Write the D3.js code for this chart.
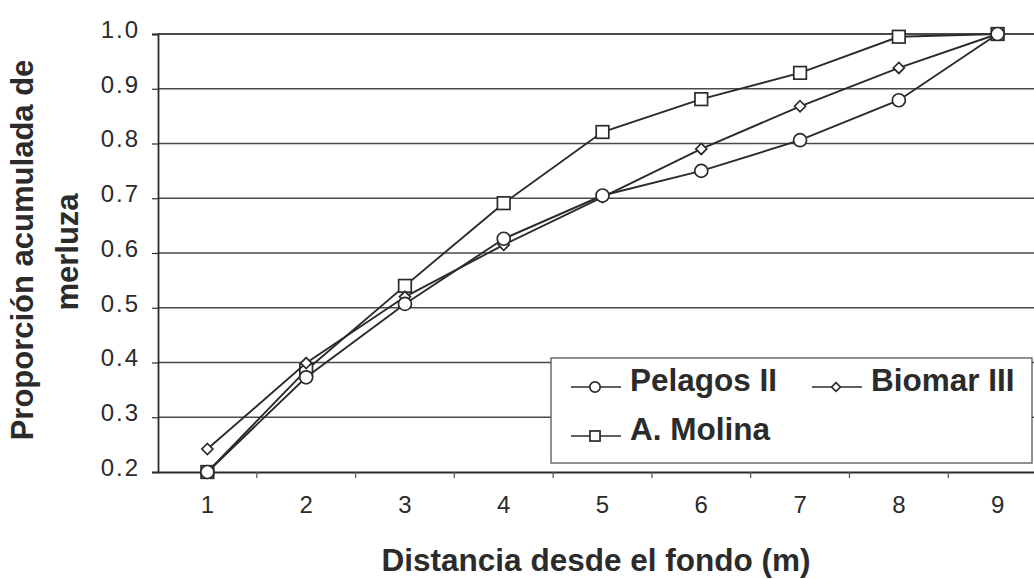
<!DOCTYPE html>
<html><head><meta charset="utf-8">
<script src="https://cdn.jsdelivr.net/npm/d3@7/dist/d3.min.js"></script>
<style>
html,body{margin:0;padding:0;background:#fff;}
svg{display:block;font-family:"Liberation Sans",Arial,sans-serif;}
</style></head>
<body>
<svg id="chart" width="1034" height="579"></svg>
<script>
const categories = [1, 2, 3, 4, 5, 6, 7, 8, 9];
const yTicks = [0.2, 0.3, 0.4, 0.5, 0.6, 0.7, 0.8, 0.9, 1.0];
const pelagos = [0.20, 0.373, 0.507, 0.626, 0.705, 0.75, 0.806, 0.879, 1.0];
const biomar  = [0.242, 0.399, 0.52, 0.615, 0.702, 0.79, 0.868, 0.938, 1.0];
const molina  = [0.20, 0.386, 0.54, 0.691, 0.821, 0.881, 0.929, 0.995, 1.0];
const seriesNames = ["Pelagos II", "Biomar III", "A. Molina"];
const xTitle = "Distancia desde el fondo (m)";
const yTitle1 = "Proporción acumulada de";
const yTitle2 = "merluza";

const ink = "#2b2b2b";
const svg = d3.select("#chart");
const x = d3.scaleBand().domain(categories).range([158, 1047]).padding(0);
const y = d3.scaleLinear().domain([0.2, 1.0]).range([472, 34]);

// gridlines
svg.append("g").selectAll("line").data(yTicks.slice(1)).join("line")
  .attr("x1", 158).attr("x2", 1047)
  .attr("y1", d => y(d)).attr("y2", d => y(d))
  .attr("stroke", "#4a4a4a").attr("stroke-width", d => d === 1.0 ? 1.8 : 1.3);

// y axis
const yAxis = svg.append("g").attr("transform", "translate(158,0)")
  .call(d3.axisLeft(y).tickValues(yTicks).tickFormat(d3.format(".1f")).tickSize(6).tickPadding(12));
yAxis.select(".domain").attr("stroke", ink).attr("stroke-width", 1.8);
yAxis.selectAll(".tick line").attr("stroke", ink).attr("stroke-width", 1.2);
yAxis.selectAll(".tick text").attr("fill", ink).style("font-size", "24px")
  .style("letter-spacing", "2px").attr("dy", "0.14em")
  .attr("font-family", "Liberation Sans, Arial, sans-serif");

// x axis
const xAxis = svg.append("g").attr("transform", "translate(0,472)")
  .call(d3.axisBottom(x).tickSize(0).tickPadding(24));
xAxis.select(".domain").attr("stroke", ink).attr("stroke-width", 2.2);
xAxis.selectAll(".tick text").attr("fill", ink).style("font-size", "24px")
  .attr("font-family", "Liberation Sans, Arial, sans-serif");
// band boundary tick marks
svg.append("g").selectAll("line").data(categories.slice(1)).join("line")
  .attr("x1", d => x(d)).attr("x2", d => x(d))
  .attr("y1", 472).attr("y2", 478)
  .attr("stroke", "#555").attr("stroke-width", 1.2);

const cx = d => x(d) + x.bandwidth() / 2;

function drawSeries(vals, shape) {
  const line = d3.line().x((d, i) => cx(categories[i])).y(d => y(d));
  svg.append("path").datum(vals).attr("d", line)
    .attr("fill", "none").attr("stroke", ink).attr("stroke-width", 1.9);
  const g = svg.append("g");
  vals.forEach((v, i) => drawMarker(g, cx(categories[i]), y(v), shape, 1));
}
function drawMarker(g, px, py, shape, s) {
  if (shape === "circle") {
    g.append("circle").attr("cx", px).attr("cy", py).attr("r", 6.5 * s)
      .attr("fill", "#fff").attr("stroke", ink).attr("stroke-width", 1.7);
  } else if (shape === "square") {
    const h = 6.3 * s;
    g.append("rect").attr("x", px - h).attr("y", py - h).attr("width", 2 * h).attr("height", 2 * h)
      .attr("fill", "#fff").attr("stroke", ink).attr("stroke-width", 1.7);
  } else {
    const h = 5.5 * s;
    g.append("path").attr("d", `M${px},${py - h}L${px + h},${py}L${px},${py + h}L${px - h},${py}Z`)
      .attr("fill", "#fff").attr("stroke", ink).attr("stroke-width", 1.7);
  }
}
drawSeries(molina, "square");
drawSeries(biomar, "diamond");
drawSeries(pelagos, "circle");

// legend
const lg = svg.append("g");
lg.append("rect").attr("x", 551).attr("y", 358).attr("width", 481).attr("height", 105)
  .attr("fill", "#fff").attr("stroke", "#555").attr("stroke-width", 1.3);
const items = [
  {name: seriesNames[0], shape: "circle", lx: 571, ly: 387},
  {name: seriesNames[1], shape: "diamond", lx: 812, ly: 387},
  {name: seriesNames[2], shape: "square", lx: 571, ly: 436}
];
items.forEach(it => {
  lg.append("line").attr("x1", it.lx).attr("x2", it.lx + 50).attr("y1", it.ly).attr("y2", it.ly)
    .attr("stroke", ink).attr("stroke-width", 1.6);
  drawMarker(lg, it.lx + 24, it.ly, it.shape, 0.8);
  lg.append("text").attr("x", it.lx + 59).attr("y", it.ly + 4)
    .attr("fill", ink).style("font-size", "31.5px").style("font-weight", "bold").text(it.name);
});

// axis titles
svg.append("text").attr("x", 596).attr("y", 571).attr("text-anchor", "middle")
  .attr("fill", ink).style("font-size", "31.5px").style("font-weight", "bold").text(xTitle);
svg.append("text").attr("transform", "translate(33,250) rotate(-90)").attr("text-anchor", "middle")
  .attr("fill", ink).style("font-size", "31px").style("font-weight", "bold").text(yTitle1);
svg.append("text").attr("transform", "translate(78,252) rotate(-90)").attr("text-anchor", "middle")
  .attr("fill", ink).style("font-size", "31px").style("font-weight", "bold").text(yTitle2);
</script>
</body></html>
